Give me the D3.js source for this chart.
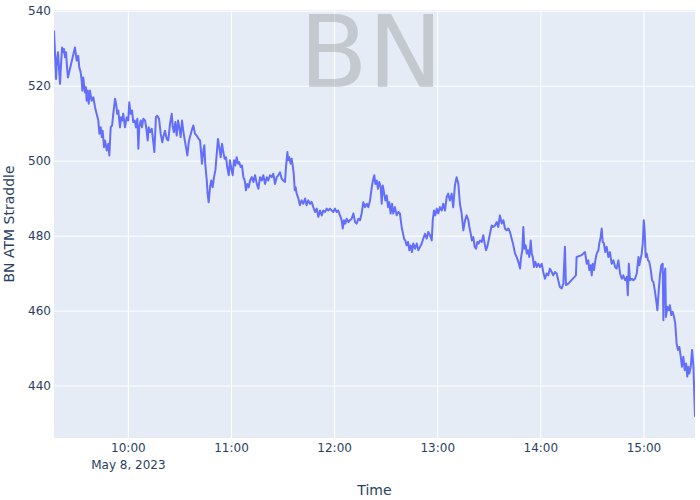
<!DOCTYPE html>
<html><head><meta charset="utf-8">
<script src="https://cdn.jsdelivr.net/npm/d3@7/dist/d3.min.js"></script>
<style>body{margin:0;background:#fff}svg{display:block}</style>
</head><body><svg id="c" width="700" height="500"></svg>
<script>
// ---- data (minutes after 09:00 on the trade date, straddle premium) ----
const tradeDate = [2023, 4, 8];
const minutes = [
 17.0,17.6,18.2,18.7,19.3,19.9,20.5,21.1,21.7,22.2,22.8,23.4,24.0,24.6,25.1,29.2,30.2,31.1,31.7,32.5,
 33.1,33.5,34.0,35.0,35.6,36.0,36.6,37.2,37.9,38.9,39.9,40.9,41.8,42.8,43.4,44.2,44.8,45.3,46.1,46.7,
 47.7,48.6,49.2,50.0,50.8,51.5,52.5,53.1,53.8,54.4,55.4,56.0,56.7,57.3,58.3,59.3,60.2,60.8,61.6,62.4,
 63.1,64.0,64.7,65.5,66.1,66.6,67.5,68.2,69.0,70.0,70.9,71.5,72.1,72.9,73.9,74.8,75.4,76.3,77.1,78.1,
 79.1,80.0,80.6,81.6,82.6,83.5,84.5,85.5,86.1,86.8,87.6,88.4,89.2,89.9,90.7,91.5,92.2,93.1,93.8,94.6,
 95.4,96.1,97.1,98.1,99.0,100.0,101.2,102.0,102.5,103.1,103.9,104.5,105.0,105.9,106.4,107.0,107.8,108.5,109.3,110.1,
 110.9,111.7,112.4,113.2,114.0,114.8,115.5,116.3,117.1,117.8,118.7,119.4,120.2,121.0,121.7,122.5,123.3,124.1,124.8,125.6,
 126.4,127.2,128.0,128.7,129.5,130.3,131.1,132.1,133.0,134.0,135.0,135.9,136.9,137.9,138.8,139.8,140.8,141.7,142.7,143.7,
 144.6,145.6,146.6,147.5,148.5,149.5,150.4,151.4,152.0,152.8,153.3,153.9,154.7,155.3,155.9,156.5,157.1,157.6,158.2,159.2,
 160.1,161.1,162.1,163.1,164.0,165.0,166.0,166.9,167.9,168.9,169.9,170.8,171.8,172.8,173.7,174.7,175.7,176.6,177.6,178.6,
 179.5,180.5,181.5,182.4,183.4,184.4,185.0,185.8,186.5,187.3,188.3,189.2,190.2,191.2,192.2,193.1,194.1,195.1,196.0,197.0,
 198.0,199.0,199.9,200.9,201.9,202.8,203.4,204.0,204.8,205.5,206.3,207.1,207.7,208.3,209.0,209.8,210.6,211.4,212.1,212.9,
 213.7,214.4,215.4,216.4,217.4,218.3,219.3,219.9,220.7,221.4,222.2,223.0,223.8,224.6,225.3,226.1,227.1,228.1,229.0,230.0,
 231.0,231.9,232.9,233.9,234.8,235.8,236.8,237.4,238.1,238.9,239.7,240.6,241.6,242.6,243.5,244.5,245.5,246.4,247.4,248.4,
 249.3,250.3,251.3,252.3,253.2,254.2,255.2,256.2,257.1,258.1,258.7,259.5,260.2,261.0,261.8,262.6,263.3,264.1,264.9,265.9,
 266.8,267.6,268.4,269.1,269.9,270.7,271.7,272.6,273.6,274.6,275.5,276.5,277.5,278.5,279.4,280.4,281.4,282.3,283.3,284.3,
 285.3,286.2,287.2,288.2,288.7,289.5,290.1,290.7,291.5,292.1,292.8,293.6,294.4,295.0,295.6,296.3,297.1,297.9,298.8,299.8,
 300.8,301.7,302.7,303.7,304.6,305.6,306.6,307.5,308.5,309.5,310.4,311.4,312.4,313.4,314.3,314.9,316.3,320.7,321.1,324.1,
 326.0,327.0,327.9,328.5,329.3,329.9,330.5,331.2,332.0,332.8,333.8,334.3,335.1,335.7,336.3,337.0,337.8,338.6,339.6,340.5,
 341.5,342.5,343.5,344.4,345.4,346.4,347.4,348.3,349.3,350.3,350.9,351.5,352.2,353.2,354.1,355.1,356.1,357.1,357.6,358.4,
 359.0,359.6,360.2,360.7,361.3,361.9,362.7,363.4,364.3,365.0,365.8,366.6,367.4,368.1,368.9,369.6,370.4,371.2,371.6,372.1,
 372.7,373.1,373.9,374.7,375.4,376.2,377.0,377.8,378.5,379.3,380.1,380.9,381.7,382.4,383.2,384.0,384.8,385.5,386.1,386.7,
 387.5,388.3,389.1,390.0
];
const straddle = [
 534.7,528.5,521.8,526.7,528.9,524.9,520.5,525.8,530.2,528.9,529.8,527.6,528.9,524.9,522.2,530.2,526.7,528.0,524.9,523.6,
 521.4,518.7,522.2,518.2,519.6,516.0,518.7,515.2,518.7,516.0,516.9,514.2,512.5,510.7,507.2,508.9,506.3,508.0,503.6,505.4,
 502.7,504.5,501.4,508.9,509.4,512.5,516.5,515.2,512.5,513.4,508.9,511.6,510.7,512.5,508.9,511.6,510.7,515.6,512.5,513.4,
 510.3,510.7,508.9,511.2,503.2,508.9,510.7,508.9,511.2,510.7,508.0,505.4,508.9,507.6,508.5,504.9,502.3,511.6,512.0,511.2,
 507.2,504.9,506.3,508.0,505.8,505.4,509.8,512.5,508.9,507.6,510.3,506.7,510.7,508.9,506.3,510.7,508.0,505.4,503.6,501.4,
 504.9,506.3,508.0,509.4,507.2,506.7,505.8,505.4,502.7,499.2,502.7,504.1,499.2,494.7,491.2,488.9,492.9,494.7,492.9,495.6,
 497.4,501.8,505.8,503.6,500.9,504.5,502.3,500.5,500.9,498.3,496.1,500.1,497.8,496.1,500.1,498.7,500.9,499.2,499.6,498.3,
 498.7,495.6,494.7,492.1,493.8,492.9,494.7,495.6,494.3,496.1,493.8,492.5,495.6,494.7,496.1,493.8,495.6,494.7,496.1,495.6,
 496.5,493.8,495.6,496.1,496.9,495.2,494.7,494.3,498.3,502.3,500.1,500.9,499.2,500.5,498.7,496.5,492.1,492.9,491.2,489.9,
 488.1,489.4,488.5,489.9,488.1,489.4,488.5,489.0,487.6,486.3,487.2,485.0,486.7,485.4,486.7,486.3,487.2,486.7,487.2,486.7,
 486.3,487.2,486.3,486.7,485.4,484.1,481.9,484.1,483.2,484.5,483.6,484.1,484.5,485.9,483.6,483.2,484.5,484.1,485.9,488.9,
 487.6,488.5,487.6,489.4,492.9,495.2,496.1,493.8,494.7,492.5,494.3,492.9,488.5,493.4,491.6,489.4,490.7,487.6,488.9,485.9,
 488.5,485.9,487.6,485.4,486.3,485.9,482.3,481.0,479.2,478.7,477.4,478.3,476.1,477.4,475.6,477.9,476.5,477.9,476.1,477.0,
 477.9,479.2,480.5,479.2,481.0,480.1,478.7,484.1,486.7,485.4,487.2,485.9,487.6,486.7,488.5,486.7,490.3,491.2,489.4,491.2,
 487.6,493.4,495.6,493.8,488.5,485.9,481.4,484.1,485.4,484.1,482.3,480.5,478.7,479.6,477.0,476.5,478.3,477.9,478.7,478.3,
 480.1,477.9,476.1,477.0,478.7,480.5,482.7,482.3,482.7,483.6,482.3,485.4,483.2,484.1,481.9,481.4,481.9,481.0,479.2,477.4,
 475.2,474.3,473.0,471.2,473.9,476.1,482.3,476.5,477.4,475.2,476.1,474.3,478.7,475.2,474.3,471.6,473.0,471.6,472.5,471.6,
 472.5,470.3,468.5,469.9,469.4,471.2,470.3,469.4,470.3,469.9,468.1,466.3,465.9,467.2,477.0,466.8,467.2,469.4,474.3,474.8,
 475.6,472.5,473.4,470.8,472.1,469.4,472.5,470.8,473.4,475.2,476.1,477.9,479.6,481.9,478.3,477.9,475.6,477.0,474.3,475.6,
 472.5,473.4,471.6,471.2,473.4,469.9,468.5,469.4,468.1,469.0,464.1,472.5,468.1,468.5,468.1,468.5,469.9,474.3,472.1,473.9,
 475.2,477.9,484.1,481.4,474.3,475.2,473.4,473.0,470.8,468.1,467.6,465.4,462.8,460.1,465.4,469.4,472.1,472.5,457.4,469.0,
 471.2,458.3,461.0,460.1,461.4,458.8,459.7,458.3,456.6,451.2,449.5,450.3,447.7,445.0,447.7,444.1,445.9,442.4,445.0,443.2,
 445.0,449.5,445.0,431.7
];
const yTicks = [440, 460, 480, 500, 520, 540];
const xTickHours = [10, 11, 12, 13, 14, 15];
const titleText = "BN";
const xTitle = "Time";
const yTitle = "BN ATM Straddle";

// ---- layout ----
const W = 700, H = 500;
const m = {l: 54, r: 5, t: 10, b: 62};
const pw = W - m.l - m.r, ph = H - m.t - m.b;
const font = "'DejaVu Sans', Verdana, sans-serif";
const ink = "#2a3f5f";

const toDate = mm => new Date(tradeDate[0], tradeDate[1], tradeDate[2], 9, 0, 0, Math.round(mm * 60000));
const data = minutes.map((mm, i) => ({t: toDate(mm), v: straddle[i]}));

const x = d3.scaleTime().domain([toDate(minutes[0]), toDate(minutes[minutes.length - 1])]).range([m.l, m.l + pw]);
const y = d3.scaleLinear().domain([426, 540.2]).range([m.t + ph, m.t]);

const svg = d3.select("#c");
svg.append("rect").attr("width", W).attr("height", H).attr("fill", "#fff");
svg.append("rect").attr("x", m.l).attr("y", m.t).attr("width", pw).attr("height", ph).attr("fill", "#E5ECF6");

const xTickDates = xTickHours.map(h => new Date(tradeDate[0], tradeDate[1], tradeDate[2], h, 0));

// gridlines via axes
svg.append("g").attr("transform", `translate(0,${m.t})`)
  .call(d3.axisBottom(x).tickValues(xTickDates).tickSize(ph).tickFormat(""))
  .call(g => { g.select(".domain").remove(); g.selectAll("line").attr("stroke", "#fff").attr("stroke-width", 1); });
svg.append("g").attr("transform", `translate(${m.l},0)`)
  .call(d3.axisRight(y).tickValues(yTicks).tickSize(pw).tickFormat(""))
  .call(g => { g.select(".domain").remove(); g.selectAll("line").attr("stroke", "#fff").attr("stroke-width", 1); });

// watermark title
svg.append("text").attr("x", 371).attr("y", 87).attr("text-anchor", "middle")
  .attr("font-family", font).attr("font-size", 100).attr("fill", "#808080").attr("fill-opacity", 0.32)
  .text(titleText);

// line
svg.append("clipPath").attr("id", "clip").append("rect")
  .attr("x", m.l).attr("y", m.t).attr("width", pw).attr("height", ph);
svg.append("path").datum(data).attr("clip-path", "url(#clip)")
  .attr("fill", "none").attr("stroke", "#636efa").attr("stroke-width", 2)
  .attr("stroke-linejoin", "round")
  .attr("d", d3.line().x(d => x(d.t)).y(d => y(d.v)));

// x tick labels
const fmt = d3.timeFormat("%H:%M");
const xl = svg.append("g").attr("transform", `translate(0,${m.t + ph})`)
  .call(d3.axisBottom(x).tickValues(xTickDates).tickSize(0).tickPadding(0).tickFormat(fmt));
xl.select(".domain").remove();
xl.selectAll("text").attr("font-family", font).attr("font-size", 12).attr("fill", ink).attr("y", 14).attr("dy", 0);
xl.selectAll(".tick").filter((d, i) => i === 0).append("text")
  .attr("y", 31).attr("text-anchor", "middle").attr("font-family", font).attr("font-size", 12).attr("fill", ink)
  .text(d3.timeFormat("%b %-d, %Y")(xTickDates[0]));

// y tick labels
const yl = svg.append("g").attr("transform", `translate(${m.l},0)`)
  .call(d3.axisLeft(y).tickValues(yTicks).tickSize(0).tickPadding(3).tickFormat(d3.format("d")));
yl.select(".domain").remove();
yl.selectAll("text").attr("font-family", font).attr("font-size", 12).attr("fill", ink);

// axis titles
svg.append("text").attr("x", m.l + pw / 2).attr("y", 495).attr("text-anchor", "middle")
  .attr("font-family", font).attr("font-size", 14).attr("fill", ink).text(xTitle);
svg.append("text").attr("transform", `translate(14,${m.t + ph / 2}) rotate(-90)`).attr("text-anchor", "middle")
  .attr("font-family", font).attr("font-size", 14).attr("fill", ink).text(yTitle);
</script>
</body></html>
